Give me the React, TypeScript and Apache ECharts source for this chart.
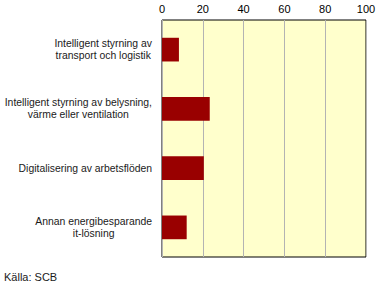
import React, { useEffect, useRef } from "react";
import * as echarts from "echarts";

const categories = [
  "Intelligent styrning av\ntransport och logistik",
  "Intelligent styrning av belysning,\nvärme eller ventilation",
  "Digitalisering av arbetsflöden",
  "Annan energibesparande\nit-lösning",
];
const values = [8.3, 23.4, 20.5, 12.1];
const source = "Källa: SCB";

export default function App() {
  const ref = useRef<HTMLDivElement>(null);
  useEffect(() => {
    document.body.style.margin = "0";
    const chart = echarts.init(ref.current!, null, { renderer: "svg" });
    chart.setOption({
      animation: false,
      textStyle: { fontFamily: "Liberation Sans, Arial, sans-serif" },
      grid: {
        left: 162,
        top: 20,
        width: 204,
        height: 237,
        outerBoundsMode: "none",
        containLabel: false,
        show: true,
        backgroundColor: "#ffffcc",
        borderColor: "#000000",
        borderWidth: 1,
      },
      xAxis: {
        type: "value",
        position: "top",
        min: 0,
        max: 100,
        interval: 20,
        axisLine: { show: false },
        axisTick: { show: false },
        splitLine: { show: true, lineStyle: { color: "#b3b3b3", width: 1 } },
        axisLabel: {
          color: "#000000",
          fontSize: 11,
          margin: 6,
          fontFamily: "Liberation Sans, Arial, sans-serif",
        },
      },
      yAxis: {
        type: "category",
        inverse: true,
        data: categories,
        axisLine: { show: false },
        axisTick: { show: false },
        axisLabel: {
          color: "#1a1a1a",
          fontSize: 10.4,
          lineHeight: 12,
          margin: 10,
          align: "right",
          fontFamily: "Liberation Sans, Arial, sans-serif",
          formatter: (v: string) =>
            v
              .split("\n")
              .map((s) => "{c|" + s + "}")
              .join("\n"),
          rich: {
            c: {
              align: "center",
              fontSize: 10.4,
              lineHeight: 12,
              color: "#1a1a1a",
              fontFamily: "Liberation Sans, Arial, sans-serif",
            },
          },
        },
      },
      series: [
        {
          type: "bar",
          data: values,
          barCategoryGap: "60%",
          itemStyle: { color: "#990000" },
        },
      ],
      graphic: [
        {
          type: "text",
          left: 4,
          top: 271,
          style: {
            text: source,
            fill: "#1a1a1a",
            font: "11px Liberation Sans, Arial, sans-serif",
          },
        },
      ],
    });
    return () => chart.dispose();
  }, []);
  return (
    <div
      ref={ref}
      style={{ position: "absolute", left: 0, top: 0, width: 383, height: 290 }}
    />
  );
}
